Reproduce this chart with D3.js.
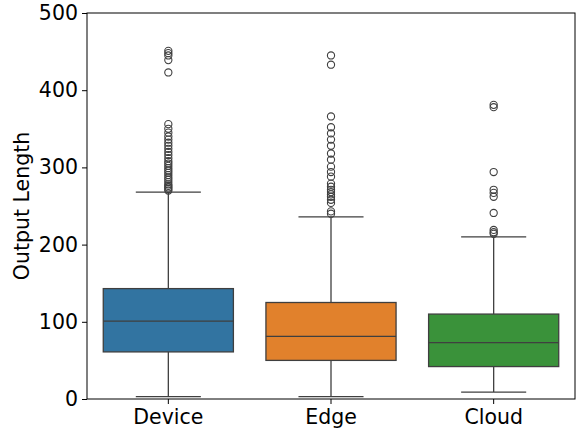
<!DOCTYPE html>
<html>
<head>
<meta charset="utf-8">
<script src="https://cdn.jsdelivr.net/npm/d3@7"></script>
<style>
html,body{margin:0;padding:0;background:#fff;}
svg{display:block;font-family:"DejaVu Sans",sans-serif;}
</style>
</head>
<body>
<svg id="chart" width="576" height="430"></svg>
<script>
const categories = ["Device", "Edge", "Cloud"];
const colors = ["#3274a1", "#e1812c", "#3a923a"];
const q1 = [61, 50, 42];
const median = [101, 81, 73];
const q3 = [143, 125, 110];
const whiskerLow = [3, 3, 9];
const whiskerHigh = [268, 236, 210];
const outliers = [
  [451, 448, 445, 439, 423, 356, 350, 345, 340, 336, 332, 328, 324, 320, 316, 312, 308, 305, 302, 299, 296, 293, 290, 287, 284, 281, 278, 276, 274, 272, 270],
  [445, 433, 366, 352, 344, 336, 328, 318, 310, 301, 294, 288, 279, 275, 271, 268, 265, 262, 258, 254, 243, 240],
  [381, 378, 294, 271, 267, 262, 241, 219, 216, 214]
];
const yTicks = [0, 100, 200, 300, 400, 500];
const yLabel = "Output Length";

const svg = d3.select("#chart");
const m = {left: 87, right: 1, top: 13, bottom: 31};
const W = 576, H = 430;
const x = d3.scaleBand().domain(categories).range([m.left, W - m.right]).paddingInner(0.2).paddingOuter(0.1);
const y = d3.scaleLinear().domain([0, 500]).range([H - m.bottom, m.top]);
const lineColor = "#3f3f3f";

categories.forEach((c, i) => {
  const cx = x(c) + x.bandwidth() / 2;
  const g = svg.append("g");
  g.append("line").attr("x1", cx).attr("x2", cx).attr("y1", y(q3[i])).attr("y2", y(whiskerHigh[i]))
    .attr("stroke", lineColor).attr("stroke-width", 1.3);
  g.append("line").attr("x1", cx).attr("x2", cx).attr("y1", y(q1[i])).attr("y2", y(whiskerLow[i]))
    .attr("stroke", lineColor).attr("stroke-width", 1.3);
  const capW = x.bandwidth() / 2;
  [whiskerHigh[i], whiskerLow[i]].forEach(v => {
    g.append("line").attr("x1", cx - capW / 2).attr("x2", cx + capW / 2).attr("y1", y(v)).attr("y2", y(v))
      .attr("stroke", lineColor).attr("stroke-width", 1.3);
  });
  g.append("rect").attr("x", x(c)).attr("width", x.bandwidth())
    .attr("y", y(q3[i])).attr("height", y(q1[i]) - y(q3[i]))
    .attr("fill", colors[i]).attr("stroke", lineColor).attr("stroke-width", 1.3);
  g.append("line").attr("x1", x(c)).attr("x2", x(c) + x.bandwidth()).attr("y1", y(median[i])).attr("y2", y(median[i]))
    .attr("stroke", lineColor).attr("stroke-width", 1.3);
  g.selectAll("circle").data(outliers[i]).join("circle")
    .attr("cx", cx).attr("cy", d => y(d)).attr("r", 3.6)
    .attr("fill", "none").attr("stroke", lineColor).attr("stroke-width", 1.1);
});

const yAxis = d3.axisLeft(y).tickValues(yTicks).tickSize(5).tickPadding(4);
const ya = svg.append("g").attr("transform", `translate(${m.left},0)`).call(yAxis);
const xAxis = d3.axisBottom(x).tickSize(5).tickPadding(5);
const xa = svg.append("g").attr("transform", `translate(0,${H - m.bottom})`).call(xAxis);
[ya, xa].forEach(a => {
  a.select(".domain").remove();
  a.selectAll("line").attr("stroke", "#000").attr("stroke-width", 1);
  a.selectAll("text").attr("font-size", 20.5).attr("fill", "#000").attr("font-family", "DejaVu Sans");
});
svg.append("rect").attr("x", m.left).attr("y", m.top).attr("width", W - m.right - m.left).attr("height", H - m.bottom - m.top)
  .attr("fill", "none").attr("stroke", "#000").attr("stroke-width", 1);

svg.append("text").attr("transform", `translate(29,${(m.top + H - m.bottom) / 2}) rotate(-90)`)
  .attr("text-anchor", "middle").attr("font-size", 20.5).attr("fill", "#000").text(yLabel);
</script>
</body>
</html>
